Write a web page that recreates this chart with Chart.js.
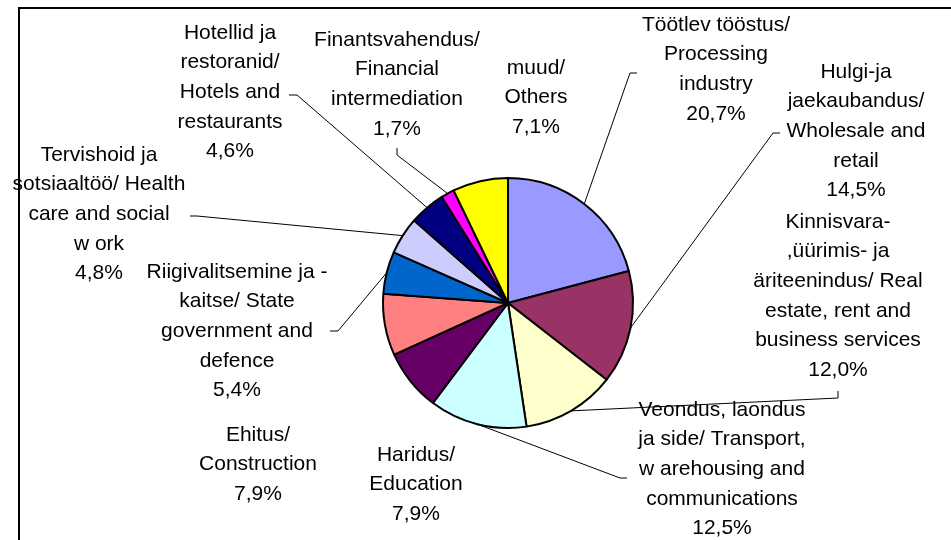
<!DOCTYPE html>
<html>
<head>
<meta charset="utf-8">
<script src="https://cdn.jsdelivr.net/npm/chart.js@4"></script>
<style>
    html, body { margin: 0; padding: 0; background: #fff; }
    #chart { display: block; }
</style>
</head>
<body>
<canvas id="chart" width="951" height="540"></canvas>
<script>
// Sectors (label lines as shown on the chart)
const categories = [
    ['Töötlev tööstus/', 'Processing', 'industry'],
    ['Hulgi-ja', 'jaekaubandus/', 'Wholesale and', 'retail'],
    ['Kinnisvara-', ',üürimis- ja', 'äriteenindus/ Real', 'estate, rent and', 'business services'],
    ['Veondus, laondus', 'ja side/ Transport,', 'w arehousing and', 'communications'],
    ['Haridus/', 'Education'],
    ['Ehitus/', 'Construction'],
    ['Riigivalitsemine ja -', 'kaitse/ State', 'government and', 'defence'],
    ['Tervishoid ja', 'sotsiaaltöö/ Health', 'care and social', 'w ork'],
    ['Hotellid ja', 'restoranid/', 'Hotels and', 'restaurants'],
    ['Finantsvahendus/', 'Financial', 'intermediation'],
    ['muud/', 'Others']
];

// Share of each sector, %
const shares = [20.7, 14.5, 12.0, 12.5, 7.9, 7.9, 5.4, 4.8, 4.6, 1.7, 7.1];

const colors = [
    '#9999FF', '#993366', '#FFFFCC', '#CCFFFF', '#660066', '#FF8080',
    '#0066CC', '#CCCCFF', '#000080', '#FF00FF', '#FFFF00'
];

// Label layout: centre x and first-line y of every label
const labelX = [716, 856, 838, 722, 416, 258, 237, 99, 230, 397, 536];
const labelY = [25, 72, 222, 410, 455, 435, 272, 155, 33, 40, 68];
const lineHeight = 29.6;

// Leader lines: points near the label (the pie end comes from the arc)
const leaders = [
    [[630, 73], [637, 73]],
    [[773, 133], [780, 133]],
    [[838, 398], [838, 391]],
    [[620, 478], [627, 478]],
    null,
    null,
    [[338, 331], [330, 331]],
    [[197, 216], [190, 216]],
    [[297, 95], [289, 95]],
    [[397, 155], [397, 148]],
    null
];

const FONT = '21px "Liberation Sans", Arial, sans-serif';

function formatShare(v) {
    return v.toFixed(1).replace('.', ',') + '%';
}

// Labels, leader lines and the frame
const labelPlugin = {
    id: 'labels',
    afterDraw(chart) {
        const ctx = chart.ctx;
        const arcs = chart.getDatasetMeta(0).data;
        ctx.save();

        // leader lines
        ctx.strokeStyle = '#000';
        ctx.lineWidth = 1;
        arcs.forEach((arc, i) => {
            if (!leaders[i]) return;
            const p = arc.getProps(['x', 'y', 'startAngle', 'endAngle', 'outerRadius'], true);
            const mid = (p.startAngle + p.endAngle) / 2;
            ctx.beginPath();
            ctx.moveTo(p.x + Math.cos(mid) * p.outerRadius, p.y + Math.sin(mid) * p.outerRadius);
            leaders[i].forEach(pt => ctx.lineTo(pt[0], pt[1]));
            ctx.stroke();
        });

        // texts
        ctx.font = FONT;
        ctx.fillStyle = '#000';
        ctx.textAlign = 'center';
        ctx.textBaseline = 'middle';
        categories.forEach((lines, i) => {
            const all = lines.concat([formatShare(shares[i])]);
            all.forEach((t, k) => {
                ctx.fillText(t, labelX[i], labelY[i] + k * lineHeight);
            });
        });

        // chart frame (only top and left edges fall inside the picture)
        ctx.strokeStyle = '#000';
        ctx.lineWidth = 2;
        ctx.beginPath();
        ctx.moveTo(19, 560);
        ctx.lineTo(19, 8);
        ctx.lineTo(970, 8);
        ctx.stroke();

        ctx.restore();
    }
};

new Chart(document.getElementById('chart'), {
    type: 'pie',
    data: {
        labels: categories,
        datasets: [{
            data: shares,
            backgroundColor: colors,
            borderColor: '#000',
            borderWidth: 2
        }]
    },
    options: {
        responsive: false,
        animation: false,
        radius: 125,
        layout: {
            padding: { left: 65, right: 0, top: 66, bottom: 0 }
        },
        plugins: {
            legend: { display: false },
            tooltip: { enabled: false }
        }
    },
    plugins: [labelPlugin]
});
</script>
</body>
</html>
